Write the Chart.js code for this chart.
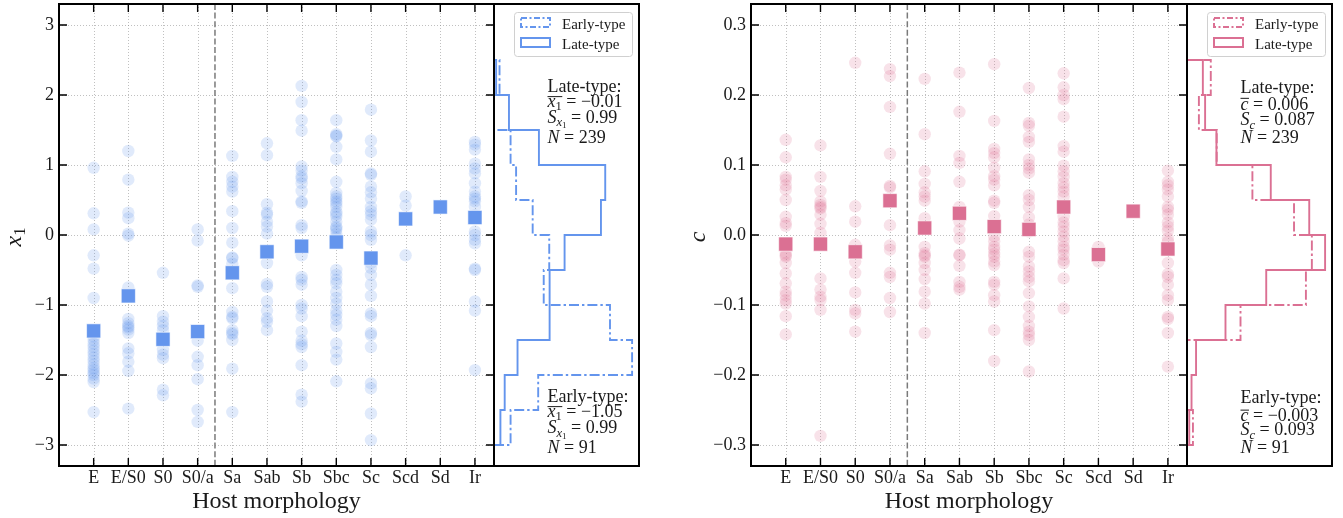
<!DOCTYPE html>
<html><head><meta charset="utf-8">
<script src="https://cdn.jsdelivr.net/npm/chart.js@4/dist/chart.umd.min.js"></script>
<style>
html,body{margin:0;padding:0;background:#fff;}
#wrap{position:relative;width:1343px;height:518px;overflow:hidden;}
#wrap canvas{position:absolute;left:0;top:0;}
</style></head>
<body><div id="wrap">
<canvas id="cMainX" width="1343" height="518"></canvas>
<canvas id="cHistX" width="1343" height="518"></canvas>
<canvas id="cMainC" width="1343" height="518"></canvas>
<canvas id="cHistC" width="1343" height="518"></canvas>
</div>
<script>
// ---------------- data ----------------
const categories = ['E','E/S0','S0','S0/a','Sa','Sab','Sb','Sbc','Sc','Scd','Sd','Ir'];
const earlyLateDivider = 3.5;

// x1 per morphology
const x1E    = [0.96,0.31,0.08,-0.29,-0.48,-0.90,-1.40,-1.45,-1.50,-1.55,-1.60,-1.65,-1.70,-1.75,-1.80,-1.85,-1.90,-1.93,-1.97,-2.00,-2.05,-2.10,-2.53];
const x1ES0  = [1.20,0.79,0.32,0.24,0.02,-0.01,-0.75,-1.20,-1.26,-1.30,-1.32,-1.35,-1.40,-1.62,-1.69,-1.81,-1.94,-2.48];
const x1S0   = [-0.54,-1.16,-1.24,-1.30,-1.36,-1.64,-1.71,-1.76,-2.21,-2.29];
const x1S0a  = [0.08,-0.08,-0.72,-0.74,-1.38,-1.51,-1.74,-1.86,-2.06,-2.50,-2.67];
const x1Sa   = [1.13,0.83,0.76,0.69,0.62,0.34,0.10,-0.11,-0.32,-0.33,-0.41,-0.76,-1.10,-1.17,-1.19,-1.36,-1.40,-1.42,-1.50,-1.91,-2.53];
const x1Sab  = [1.31,1.14,0.44,0.32,0.29,0.19,0.12,0.02,-0.24,-0.40,-0.70,-0.74,-0.95,-1.08,-1.19,-1.24,-1.36];
const x1Sb   = [2.13,1.90,1.64,1.49,0.98,0.92,0.84,0.81,0.74,0.63,0.48,0.46,0.14,0.10,-0.16,-0.29,-0.60,-0.64,-0.71,-1.00,-1.05,-1.16,-1.38,-1.51,-1.56,-1.60,-1.86,-2.28,-2.38];
const x1Sbc  = [1.64,1.44,1.41,1.42,1.26,1.08,0.76,0.60,0.55,0.52,0.48,0.45,0.40,0.33,0.30,0.26,0.19,0.12,0.10,0.07,0.02,-0.03,-0.50,-0.57,-0.64,-0.69,-0.81,-0.90,-0.98,-1.08,-1.14,-1.21,-1.30,-1.55,-1.67,-1.78,-2.09];
const x1Sc   = [1.79,1.35,1.19,0.88,0.86,0.69,0.61,0.52,0.40,0.34,0.29,0.22,0.05,0.00,-0.07,-0.33,-0.40,-0.47,-0.57,-0.71,-0.87,-1.12,-1.16,-1.40,-1.43,-1.60,-2.12,-2.19,-2.55,-2.93];
const x1Scd  = [0.55,0.42,-0.29];
const x1Sd   = [0.40];
const x1Ir   = [1.33,1.29,1.22,1.02,0.95,0.88,0.74,0.62,0.55,0.52,0.48,0.40,0.28,0.05,0.00,-0.07,-0.12,-0.48,-0.50,-0.95,-1.08,-1.93];
const x1Means = [-1.37,-0.87,-1.49,-1.38,-0.54,-0.24,-0.16,-0.10,-0.33,0.23,0.40,0.25];

// c per morphology
const cE    = [0.136,0.111,0.083,0.079,0.071,0.065,0.050,0.026,0.017,0.013,-0.013,-0.026,-0.029,-0.031,-0.040,-0.055,-0.069,-0.081,-0.086,-0.093,-0.098,-0.116,-0.142];
const cES0  = [0.128,0.083,0.063,0.048,0.043,0.040,0.038,0.029,0.016,0.003,-0.013,-0.062,-0.078,-0.088,-0.093,-0.107,-0.287];
const cS0   = [0.246,0.041,0.019,-0.014,-0.024,-0.038,-0.054,-0.082,-0.107,-0.112,-0.138];
const cS0a  = [0.237,0.227,0.183,0.116,0.070,0.068,0.050,0.014,-0.015,-0.021,-0.054,-0.060,-0.090,-0.110];
const cSa   = [0.223,0.144,0.091,0.073,0.061,0.055,0.049,0.024,0.010,-0.017,-0.026,-0.029,-0.031,-0.040,-0.050,-0.063,-0.081,-0.098,-0.140];
const cSab  = [0.232,0.176,0.113,0.103,0.076,0.040,0.031,0.019,0.007,-0.005,-0.028,-0.029,-0.044,-0.067,-0.074,-0.078];
const cSb   = [0.244,0.163,0.123,0.117,0.111,0.096,0.084,0.079,0.071,0.049,0.046,0.027,0.012,-0.002,-0.009,-0.017,-0.021,-0.027,-0.031,-0.038,-0.043,-0.067,-0.071,-0.086,-0.095,-0.136,-0.180];
const cSbc  = [0.210,0.160,0.156,0.140,0.133,0.108,0.100,0.095,0.089,0.057,0.050,0.040,0.025,0.015,0.008,0.005,-0.024,-0.031,-0.045,-0.052,-0.060,-0.066,-0.083,-0.102,-0.117,-0.130,-0.138,-0.143,-0.150,-0.195];
const cSc   = [0.231,0.211,0.200,0.194,0.169,0.127,0.119,0.099,0.091,0.083,0.074,0.068,0.062,0.055,0.040,0.026,0.018,0.012,0.005,-0.002,-0.009,-0.017,-0.021,-0.028,-0.036,-0.040,-0.062,-0.105];
const cScd  = [-0.017,-0.028,-0.038];
const cSd   = [0.034];
const cIr   = [0.092,0.076,0.071,0.065,0.055,0.040,0.036,0.029,0.018,0.012,0.006,-0.005,-0.010,-0.020,-0.040,-0.056,-0.060,-0.071,-0.086,-0.093,-0.117,-0.120,-0.140,-0.188];
const cMeans = [-0.013,-0.013,-0.024,0.049,0.010,0.031,0.012,0.008,0.040,-0.028,0.034,-0.020];

// histograms (counts per bin, bins from bottom to top)
const x1BinEdges    = [-3.0,-2.5,-2.0,-1.5,-1.0,-0.5,0.0,0.5,1.0,1.5,2.0,2.5];
const x1LateCounts  = [3,5,11,26,26,33,50,52,21,7,1];
const x1EarlyCounts = [3,8,25,21,9,10,7,4,3,0,1];
const cBinEdges     = [-0.30,-0.25,-0.20,-0.15,-0.10,-0.05,0.00,0.05,0.10,0.15,0.20,0.25];
const cLateCounts   = [1,2,4,17,35,61,54,37,13,8,7];
const cEarlyCounts  = [1,0,0,9,20,21,18,11,5,2,4];

// ticks
const x1Ticks = [-3,-2,-1,0,1,2,3];
const cTicks  = [-0.3,-0.2,-0.1,0.0,0.1,0.2,0.3];

// statistics text
const x1LateStats  = {mean:'−0.01', s:'0.99', n:'239'};
const x1EarlyStats = {mean:'−1.05', s:'0.99', n:'91'};
const cLateStats   = {mean:'0.006', s:'0.087', n:'239'};
const cEarlyStats  = {mean:'−0.003', s:'0.093', n:'91'};

// ---------------- drawing ----------------
const W = 1343, H = 518;
const FONT = '"Liberation Serif", "DejaVu Serif", serif';
const TXT = '#1a1a1a';
const BLUE = '#6495ED', PINK = '#DB7093';
Chart.defaults.font.family = FONT;

function rgba(hex, a){
  const n = parseInt(hex.slice(1),16);
  return `rgba(${(n>>16)&255},${(n>>8)&255},${n&255},${a})`;
}

function drawRuns(ctx, x, y, runs, size, ovK){
  let cx = x, ovL = null, ovR = null;
  ctx.textBaseline = 'alphabetic';
  ctx.textAlign = 'left';
  for (const r of runs){
    let fs = size, dy = 0;
    if (r.sub === 1){ fs = size*0.7; dy = size*0.2; }
    if (r.sub === 2){ fs = size*0.5; dy = size*0.32; }
    ctx.font = (r.i ? 'italic ' : '') + fs + 'px ' + FONT;
    ctx.fillText(r.t, cx, y + dy);
    const w = ctx.measureText(r.t).width;
    if (r.ov){ if (ovL === null) ovL = cx; ovR = cx + w; }
    cx += w;
  }
  if (ovL !== null){
    ctx.save(); ctx.lineWidth = 1; ctx.strokeStyle = TXT;
    ctx.beginPath(); ctx.moveTo(ovL, y - size*ovK); ctx.lineTo(ovR+0.5, y - size*ovK); ctx.stroke();
    ctx.restore();
  }
  return cx - x;
}
function runsWidth(ctx, runs, size){
  let w = 0;
  for (const r of runs){
    let fs = size; if (r.sub === 1) fs = size*0.7; if (r.sub === 2) fs = size*0.5;
    ctx.font = (r.i ? 'italic ' : '') + fs + 'px ' + FONT;
    w += ctx.measureText(r.t).width;
  }
  return w;
}

function mainChart(id, area, byCat, means, yTicks, yMin, yMax, color, fmt, titleRuns, titleX){
  const pts = [];
  byCat.forEach((arr, i) => arr.forEach(v => pts.push({x:i, y:v})));
  const meanPts = means.map((v, i) => ({x:i, y:v}));
  const deco = {
    id: 'deco_' + id,
    beforeDatasetsDraw(chart){
      const ctx = chart.ctx, ca = chart.chartArea, xs = chart.scales.x, ys = chart.scales.y;
      ctx.save();
      ctx.strokeStyle = 'rgba(140,140,140,0.55)';
      ctx.lineWidth = 1;
      ctx.setLineDash([1, 2]);
      categories.forEach((c, i) => {
        const px = Math.round(xs.getPixelForValue(i)) + 0.5;
        ctx.beginPath(); ctx.moveTo(px, ca.top); ctx.lineTo(px, ca.bottom); ctx.stroke();
      });
      yTicks.forEach(v => {
        const py = Math.round(ys.getPixelForValue(v)) + 0.5;
        ctx.beginPath(); ctx.moveTo(ca.left, py); ctx.lineTo(ca.right, py); ctx.stroke();
      });
      // early / late divider
      ctx.strokeStyle = '#7a7a7a';
      ctx.lineWidth = 1.5;
      ctx.setLineDash([6, 2.6]);
      const dx = xs.getPixelForValue(earlyLateDivider);
      ctx.beginPath(); ctx.moveTo(dx, ca.top); ctx.lineTo(dx, ca.bottom); ctx.stroke();
      ctx.restore();
    },
    afterDraw(chart){
      const ctx = chart.ctx, ca = chart.chartArea, xs = chart.scales.x, ys = chart.scales.y;
      ctx.save();
      ctx.strokeStyle = '#000';
      ctx.lineWidth = 1.4;
      const TL = 8;
      categories.forEach((c, i) => {
        const px = xs.getPixelForValue(i);
        ctx.beginPath();
        ctx.moveTo(px, ca.bottom); ctx.lineTo(px, ca.bottom - TL);
        ctx.moveTo(px, ca.top); ctx.lineTo(px, ca.top + TL);
        ctx.stroke();
      });
      yTicks.forEach(v => {
        const py = ys.getPixelForValue(v);
        ctx.beginPath();
        ctx.moveTo(ca.left, py); ctx.lineTo(ca.left + TL, py);
        ctx.moveTo(ca.right, py); ctx.lineTo(ca.right - TL, py);
        ctx.stroke();
      });
      ctx.lineWidth = 2;
      ctx.strokeRect(ca.left, ca.top, ca.right - ca.left, ca.bottom - ca.top);
      // x title
      ctx.fillStyle = TXT;
      ctx.font = '24px ' + FONT;
      ctx.textAlign = 'center'; ctx.textBaseline = 'alphabetic';
      ctx.fillText('Host morphology', (ca.left + ca.right)/2, 508);
      // y title (rotated)
      const tw = runsWidth(ctx, titleRuns, 24);
      ctx.translate(titleX, (ca.top + ca.bottom)/2 + 2);
      ctx.rotate(-Math.PI/2);
      drawRuns(ctx, -tw/2, 0, titleRuns, 24, 0.6);
      ctx.restore();
    }
  };
  return new Chart(document.getElementById(id), {
    type: 'scatter',
    data: { datasets: [
      { label:'mean', data: meanPts, pointStyle:'rect', pointRadius:10, pointHoverRadius:10,
        backgroundColor: color, borderColor:'rgba(255,255,255,0.6)', borderWidth:1, order:0 },
      { label:'objects', data: pts, pointStyle:'circle', pointRadius:6.2, pointHoverRadius:6.2,
        backgroundColor: rgba(color, 0.2), borderWidth:0, order:1 }
    ]},
    options: {
      responsive:false, animation:false, devicePixelRatio:1, events:[],
      layout:{ autoPadding:false, padding:{ left:0, top:area.t, right:W - area.r, bottom:0 } },
      plugins:{ legend:{display:false}, tooltip:{enabled:false}, title:{display:false} },
      scales:{
        x:{ type:'linear', position:'bottom', min:-1, max:11.55,
            grid:{display:false, drawTicks:false}, border:{display:false},
            afterBuildTicks: s => { s.ticks = categories.map((c, i) => ({value:i})); },
            afterFit: s => { s.height = H - area.b; s.paddingLeft = 0; s.paddingRight = 0; s.paddingTop = 0; s.paddingBottom = 0; },
            ticks:{ autoSkip:false, maxRotation:0, minRotation:0, padding:1,
                    font:{size:18, family:FONT}, color:TXT,
                    callback: v => categories[Math.round(v)] ?? '' } },
        y:{ type:'linear', position:'left', min:yMin, max:yMax,
            grid:{display:false, drawTicks:false}, border:{display:false},
            afterBuildTicks: s => { s.ticks = yTicks.map(v => ({value:v})); },
            afterFit: s => { s.width = area.l; s.paddingTop = 0; s.paddingBottom = 0; s.paddingLeft = 0; s.paddingRight = 0; },
            ticks:{ padding:5, font:{size:18, family:FONT}, color:TXT, callback: fmt } }
      }
    },
    plugins:[deco]
  });
}

function histOutline(edges, counts){
  const n = counts.reduce((a, b) => a + b, 0);
  const pts = [{x:0, y:edges[0]}];
  counts.forEach((c, i) => {
    const d = c / (n * (edges[i+1] - edges[i]));
    pts.push({x:d, y:edges[i]}, {x:d, y:edges[i+1]});
  });
  pts.push({x:0, y:edges[edges.length-1]});
  return pts;
}

const DASHDOT = [10, 3, 2.4, 3];

function histChart(id, area, edges, lateCounts, earlyCounts, yMin, yMax, color, lateStats, earlyStats, sym){
  const late = histOutline(edges, lateCounts);
  const early = histOutline(edges, earlyCounts);
  const xMax = 1.05 * Math.max(...late.map(p => p.x), ...early.map(p => p.x));
  const deco = {
    id:'hdeco_' + id,
    afterDraw(chart){
      const ctx = chart.ctx, ca = chart.chartArea;
      ctx.save();
      ctx.strokeStyle = '#000'; ctx.lineWidth = 2;
      ctx.strokeRect(ca.left, ca.top, ca.right - ca.left, ca.bottom - ca.top);
      // legend
      const bw = 118, bh = 44, br = ca.right - 7, bx = br - bw, by = 12;
      ctx.fillStyle = 'rgba(255,255,255,0.8)';
      ctx.strokeStyle = '#d0d0d0'; ctx.lineWidth = 1;
      ctx.beginPath();
      if (ctx.roundRect) ctx.roundRect(bx + 0.5, by + 0.5, bw, bh, 3); else ctx.rect(bx + 0.5, by + 0.5, bw, bh);
      ctx.fill(); ctx.stroke();
      ctx.strokeStyle = color; ctx.lineWidth = 2;
      ctx.setLineDash([6, 2.5, 2, 2.5]);
      ctx.strokeRect(bx + 7, by + 6, 29, 9);
      ctx.setLineDash([]);
      ctx.strokeRect(bx + 7, by + 26, 29, 9);
      ctx.fillStyle = TXT;
      ctx.font = '15px ' + FONT; ctx.textAlign = 'left'; ctx.textBaseline = 'alphabetic';
      ctx.fillText('Early-type', bx + 48, by + 16.5);
      ctx.fillText('Late-type', bx + 48, by + 36.5);
      // stats text
      const tx = ca.left + 53.5, S = 18;
      const isX = sym === 'x';
      const meanRuns = isX ? [{t:'x', i:1, ov:1}, {t:'1', sub:1, ov:1}] : [{t:'c', i:1, ov:1}];
      const sRuns = isX ? [{t:'S', i:1}, {t:'x', i:1, sub:1}, {t:'1', sub:2}] : [{t:'S', i:1}, {t:'c', i:1, sub:1}];
      const ovK = isX ? 0.56 : 0.62;
      function block(y0, label, st, dys){
        drawRuns(ctx, tx, y0, [{t:label}], S, 0);
        drawRuns(ctx, tx, y0 + dys[0], meanRuns.concat([{t:' = ' + st.mean}]), S, ovK);
        drawRuns(ctx, tx, y0 + dys[1], sRuns.concat([{t:' = ' + st.s}]), S, 0);
        drawRuns(ctx, tx, y0 + dys[2], [{t:'N', i:1}, {t:' = ' + st.n}], S, 0);
      }
      if (isX){
        block(91.7, 'Late-type:', lateStats, [15, 31, 51.6]);
        block(402.3, 'Early-type:', earlyStats, [14.4, 31, 51]);
      } else {
        block(93, 'Late-type:', lateStats, [16.5, 32, 50.3]);
        block(403.3, 'Early-type:', earlyStats, [18, 31.7, 50]);
      }
      ctx.restore();
    }
  };
  return new Chart(document.getElementById(id), {
    type:'scatter',
    data:{ datasets:[
      { label:'Early-type', data:early, showLine:true, pointRadius:0, pointHoverRadius:0,
        borderColor:color, borderWidth:1.9, borderDash:DASHDOT, fill:false, tension:0 },
      { label:'Late-type', data:late, showLine:true, pointRadius:0, pointHoverRadius:0,
        borderColor:color, borderWidth:1.9, fill:false, tension:0 }
    ]},
    options:{
      responsive:false, animation:false, devicePixelRatio:1, events:[],
      layout:{ autoPadding:false, padding:{ left:area.l, top:area.t, right:W - area.r, bottom:H - area.b } },
      plugins:{ legend:{display:false}, tooltip:{enabled:false} },
      scales:{
        x:{ type:'linear', display:false, min:0, max:xMax },
        y:{ type:'linear', display:false, min:yMin, max:yMax }
      }
    },
    plugins:[deco]
  });
}

const fmtX1 = v => (v < 0 ? '−' : '') + Math.abs(v);
const fmtC  = v => (v < -1e-9 ? '−' : '') + Math.abs(v).toFixed(1);

mainChart('cMainX', {l:59, t:4, r:494, b:466},
  [x1E,x1ES0,x1S0,x1S0a,x1Sa,x1Sab,x1Sb,x1Sbc,x1Sc,x1Scd,x1Sd,x1Ir], x1Means,
  x1Ticks, -3.3, 3.3, BLUE, fmtX1, [{t:'x', i:1}, {t:'1', sub:1}], 20.5);
histChart('cHistX', {l:494, t:4, r:639, b:466}, x1BinEdges, x1LateCounts, x1EarlyCounts,
  -3.3, 3.3, BLUE, x1LateStats, x1EarlyStats, 'x');
mainChart('cMainC', {l:751, t:4, r:1187, b:466},
  [cE,cES0,cS0,cS0a,cSa,cSab,cSb,cSbc,cSc,cScd,cSd,cIr], cMeans,
  cTicks, -0.33, 0.33, PINK, fmtC, [{t:'c', i:1}], 705);
histChart('cHistC', {l:1187, t:4, r:1332, b:466}, cBinEdges, cLateCounts, cEarlyCounts,
  -0.33, 0.33, PINK, cLateStats, cEarlyStats, 'c');
</script>
</body></html>
